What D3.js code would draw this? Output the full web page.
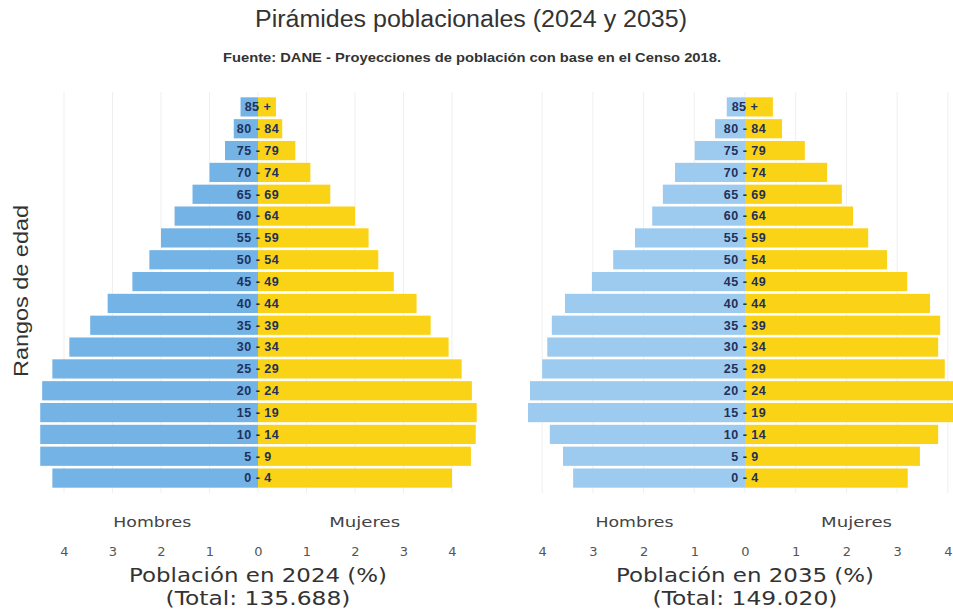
<!DOCTYPE html>
<html><head><meta charset="utf-8">
<script src="https://cdn.jsdelivr.net/npm/d3@7"></script>
<style>
html,body{margin:0;padding:0;background:#fff;}
svg{display:block;}
</style></head>
<body>
<svg id="chart" width="953" height="609"></svg>
<script>
const ageGroups = ["85 +","80 - 84","75 - 79","70 - 74","65 - 69","60 - 64","55 - 59","50 - 54","45 - 49","40 - 44","35 - 39","30 - 34","25 - 29","20 - 24","15 - 19","10 - 14","5 - 9","0 - 4"];
const men2024   = [0.36,0.50,0.68,1.00,1.35,1.72,2.00,2.24,2.59,3.10,3.46,3.89,4.24,4.45,4.49,4.49,4.49,4.24];
const women2024 = [0.37,0.50,0.77,1.08,1.49,2.00,2.28,2.48,2.80,3.27,3.56,3.93,4.20,4.41,4.51,4.49,4.39,4.00];
const men2035   = [0.36,0.59,0.99,1.38,1.62,1.83,2.17,2.60,3.02,3.55,3.81,3.90,4.00,4.24,4.28,3.85,3.59,3.39];
const women2035 = [0.55,0.73,1.18,1.62,1.91,2.13,2.43,2.80,3.20,3.65,3.85,3.81,3.94,4.30,4.30,3.81,3.45,3.21];
const tickValues = [-4,-3,-2,-1,0,1,2,3,4];
const panels = [
  {men: men2024, women: women2024, title: "Población en 2024 (%)", total: "(Total: 135.688)", center: 258, unit: 48.5, blue: "#74b3e6"},
  {men: men2035, women: women2035, title: "Población en 2035 (%)", total: "(Total: 149.020)", center: 745, unit: 50.7, blue: "#9dcbf0"}
];
const yellow = "#fbd316";

const svg = d3.select("#chart");

svg.append("text").attr("x", 471).attr("y", 27).attr("text-anchor","middle")
  .attr("font-family","Liberation Sans, Arial, sans-serif").attr("font-size", 23)
  .attr("textLength", 432).attr("lengthAdjust","spacingAndGlyphs")
  .attr("fill","#333").text("Pirámides poblacionales (2024 y 2035)");
svg.append("text").attr("x", 472).attr("y", 62).attr("text-anchor","middle")
  .attr("font-family","Liberation Sans, Arial, sans-serif").attr("font-size", 12).attr("font-weight","bold")
  .attr("textLength", 498).attr("lengthAdjust","spacingAndGlyphs")
  .attr("fill","#333").text("Fuente: DANE - Proyecciones de población con base en el Censo 2018.");
svg.append("text").attr("transform","translate(28,291) rotate(-90)").attr("text-anchor","middle")
  .attr("font-family","Liberation Sans, Arial, sans-serif").attr("font-size", 20)
  .attr("textLength", 172).attr("lengthAdjust","spacingAndGlyphs")
  .attr("fill","#333").text("Rangos de edad");

const y = d3.scaleBand().domain(ageGroups).range([96, 489]).paddingInner(0.12).paddingOuter(0.06);

panels.forEach(p => {
  const x = d3.scaleLinear().domain([-4.5, 4.5]).range([p.center - 4.5*p.unit, p.center + 4.5*p.unit]);
  const g = svg.append("g");
  g.selectAll("line.grid").data(tickValues).join("line")
    .attr("x1", d => x(d)).attr("x2", d => x(d)).attr("y1", 92).attr("y2", 493)
    .attr("stroke", "#efefef").attr("stroke-width", 1);
  g.selectAll("rect.m").data(ageGroups).join("rect")
    .attr("x", (d,i) => x(-p.men[i])).attr("width", (d,i) => x(0) - x(-p.men[i]))
    .attr("y", d => y(d)).attr("height", y.bandwidth()).attr("fill", p.blue);
  g.selectAll("rect.w").data(ageGroups).join("rect")
    .attr("x", x(0)).attr("width", (d,i) => x(p.women[i]) - x(0))
    .attr("y", d => y(d)).attr("height", y.bandwidth()).attr("fill", yellow);
  g.selectAll("text.age").data(ageGroups).join("text")
    .attr("x", x(0)).attr("y", d => y(d) + y.bandwidth()/2).attr("dy","0.35em")
    .attr("text-anchor","middle").attr("font-family","Liberation Sans, Arial, sans-serif")
    .attr("font-size", 12.5).attr("font-weight","bold").attr("letter-spacing", 0.5)
    .attr("fill","#22305a").text(d => d);
  const ax = svg.append("g").attr("transform","translate(0,543)")
    .call(d3.axisBottom(x).tickValues(tickValues).tickFormat(d => Math.abs(d)).tickSize(0).tickPadding(4));
  ax.select(".domain").remove();
  ax.selectAll("text").attr("font-family","DejaVu Sans, Verdana, sans-serif").attr("font-size", 13).attr("fill","#555");
  const lbl = (t, xx, yy, fs, col, len) => svg.append("text").attr("x", xx).attr("y", yy).attr("text-anchor","middle")
    .attr("font-family","DejaVu Sans, Verdana, sans-serif").attr("font-size", fs).attr("fill", col)
    .attr("textLength", len).attr("lengthAdjust","spacingAndGlyphs").text(t);
  lbl("Hombres", x(-2.18), 527, 14, "#444", 78);
  lbl("Mujeres", x(2.2), 527, 14, "#444", 71);
  lbl(p.title, x(0), 582, 20, "#333", 258);
  lbl(p.total, x(0), 605, 20, "#333", 185);
});
</script>
</body></html>
